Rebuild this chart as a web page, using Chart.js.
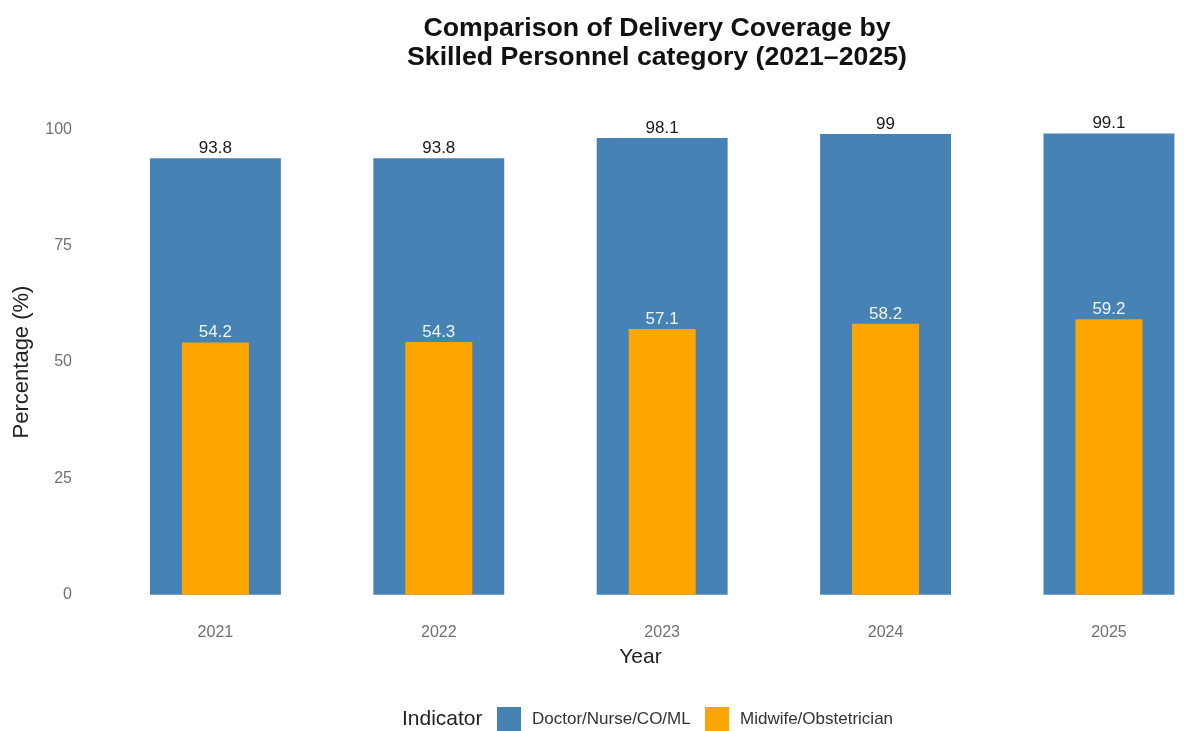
<!DOCTYPE html>
<html>
<head>
<meta charset="utf-8">
<script src="https://cdn.jsdelivr.net/npm/chart.js@4"></script>
<style>
    html, body { margin: 0; padding: 0; background: #ffffff; }
    #wrap { width: 1186px; height: 731px; }
</style>
</head>
<body>
<div id="wrap"><canvas id="coverageChart" width="1186" height="731"></canvas></div>
<script>
const years = [2021, 2022, 2023, 2024, 2025];
const doctorNurse = [93.8, 93.8, 98.1, 99, 99.1];
const midwife = [54.2, 54.3, 57.1, 58.2, 59.2];
const seriesNames = ['Doctor/Nurse/CO/ML', 'Midwife/Obstetrician'];
const seriesColors = ['#4682B4', '#FFA500'];
const yTicks = [0, 25, 50, 75, 100];

const FONT = "'Liberation Sans', Arial, sans-serif";

// value labels above each bar, title and the inline legend
const annotations = {
    id: 'annotations',
    afterDatasetsDraw(chart) {
        const ctx = chart.ctx;
        ctx.save();
        ctx.textAlign = 'center';
        ctx.textBaseline = 'alphabetic';
        ctx.font = '17px ' + FONT;
        const labelColors = ['#1a1a1a', '#eef5fc'];
        chart.data.datasets.forEach((ds, i) => {
            const meta = chart.getDatasetMeta(i);
            meta.data.forEach((bar, j) => {
                ctx.fillStyle = labelColors[i];
                ctx.fillText(String(ds.data[j].y), bar.x, bar.y - 5);
            });
        });
        ctx.restore();
    },
    afterDraw(chart) {
        const ctx = chart.ctx;
        ctx.save();
        // title
        ctx.fillStyle = '#111';
        ctx.textAlign = 'center';
        ctx.textBaseline = 'alphabetic';
        ctx.font = 'bold 26.7px ' + FONT;
        ctx.fillText('Comparison of Delivery Coverage by', 657, 36);
        ctx.fillText('Skilled Personnel category (2021\u20132025)', 657, 65);

        // legend
        const y = 719;
        ctx.textBaseline = 'middle';
        ctx.textAlign = 'left';
        ctx.font = '21px ' + FONT;
        ctx.fillStyle = '#222';
        ctx.fillText('Indicator', 402, y);
        const boxX = [497, 705];
        ctx.font = '17px ' + FONT;
        seriesNames.forEach((name, i) => {
            ctx.fillStyle = seriesColors[i];
            ctx.fillRect(boxX[i], y - 12, 24, 24);
            ctx.fillStyle = '#333';
            ctx.fillText(name, boxX[i] + 35, y);
        });
        ctx.restore();
    }
};

const ctx = document.getElementById('coverageChart').getContext('2d');
new Chart(ctx, {
    type: 'bar',
    data: {
        datasets: [{
            label: seriesNames[0],
            data: years.map((yr, i) => ({ x: yr, y: doctorNurse[i] })),
            backgroundColor: seriesColors[0],
            grouped: false,
            categoryPercentage: 1,
            barPercentage: 0.586,
            order: 1
        }, {
            label: seriesNames[1],
            data: years.map((yr, i) => ({ x: yr, y: midwife[i] })),
            backgroundColor: seriesColors[1],
            grouped: false,
            categoryPercentage: 1,
            barPercentage: 0.3,
            order: 0
        }]
    },
    options: {
        responsive: false,
        animation: false,
        layout: { padding: { top: 106, bottom: 47, left: 0, right: 0 } },
        scales: {
            x: {
                type: 'linear',
                offset: false,
                min: 2020.461,
                max: 2025.345,
                grid: { display: false, drawTicks: false, offset: false },
                border: { display: false },
                ticks: {
                    stepSize: 1,
                    includeBounds: false,
                    padding: 5,
                    color: '#707070',
                    font: { family: FONT, size: 16 },
                    callback: (v) => String(v)
                },
                title: {
                    display: true,
                    text: 'Year',
                    color: '#222',
                    font: { family: FONT, size: 21 },
                    padding: { top: 14, bottom: 14 }
                },
                afterFit: (scale) => { scale.height = 66; }
            },
            y: {
                min: -5,
                max: 105,
                grid: { display: false, drawTicks: false },
                border: { display: false },
                afterBuildTicks: (scale) => { scale.ticks = yTicks.map(v => ({ value: v })); },
                ticks: {
                    padding: 23,
                    color: '#707070',
                    font: { family: FONT, size: 16 }
                },
                title: {
                    display: true,
                    text: 'Percentage (%)',
                    color: '#222',
                    font: { family: FONT, size: 22 },
                    padding: { top: 9, bottom: 9 }
                },
                afterFit: (scale) => { scale.width = 95; }
            }
        },
        plugins: {
            legend: { display: false },
            title: { display: false },
            tooltip: { enabled: false }
        }
    },
    plugins: [annotations]
});
</script>
</body>
</html>
